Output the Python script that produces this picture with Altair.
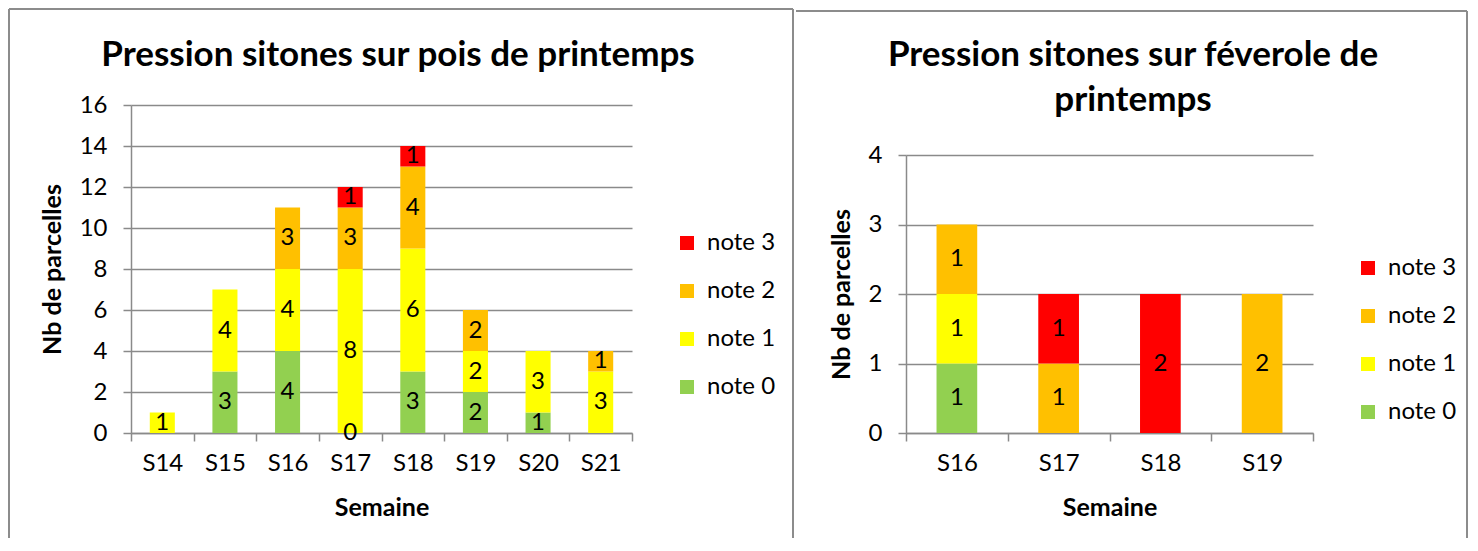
import altair as alt
import pandas as pd

FONT = "Lato"
GRID = "#8a8a8a"

notes = ["note 0", "note 1", "note 2", "note 3"]
note_colors = ["#92D050", "#FFFF00", "#FFC000", "#FF0000"]

pois_weeks = ["S14", "S15", "S16", "S17", "S18", "S19", "S20", "S21"]
pois_note0 = [None, 3, 4, 0, 3, 2, 1, None]
pois_note1 = [1, 4, 4, 8, 6, 2, 3, 3]
pois_note2 = [None, None, 3, 3, 4, 2, None, 1]
pois_note3 = [None, None, None, 1, 1, None, None, None]

fev_weeks = ["S16", "S17", "S18", "S19"]
fev_note0 = [1, None, None, None]
fev_note1 = [1, None, None, None]
fev_note2 = [1, 1, None, 2]
fev_note3 = [None, 1, 2, None]


def long_df(weeks, series):
    rows = []
    for k, vals in enumerate(series):
        for w, v in zip(weeks, vals):
            if v is not None:
                rows.append({"week": w, "note": notes[k], "ord": k, "value": v})
    return pd.DataFrame(rows)


one = alt.Data(values=[{"a": 1}])
H = 328


def panel(df, weeks, ymax, ystep, W, yrange, frame, borders, title, title_xy,
          legend_xy):
    base = (
        alt.Chart(df)
        .transform_stack(stack="value", groupby=["week"],
                         sort=[alt.SortField("ord", order="ascending")],
                         as_=["y0", "y1"])
        .transform_calculate(mid="(datum.y0 + datum.y1) / 2")
    )
    xenc = alt.X("week:N", sort=weeks, title="Semaine",
                 scale=alt.Scale(paddingInner=0, paddingOuter=0),
                 axis=alt.Axis(tickBand="extent", labelAngle=0))
    bars = base.mark_bar(width=alt.RelativeBandSize(0.4)).encode(
        x=xenc,
        y=alt.Y("y1:Q", title="Nb de parcelles",
                scale=alt.Scale(domain=[0, ymax], nice=False, range=yrange),
                axis=alt.Axis(values=list(range(0, ymax + 1, ystep)), grid=True,
                              format="d")),
        y2="y0:Q",
        color=alt.Color("note:N", title=None,
                        scale=alt.Scale(domain=notes[::-1], range=note_colors[::-1]),
                        legend=alt.Legend(orient="none", legendX=legend_xy[0],
                                          legendY=legend_xy[1])),
    )
    labels = base.mark_text(font=FONT, fontSize=24, color="black",
                            baseline="middle", align="center").encode(
        x=alt.X("week:N", sort=weeks),
        y="mid:Q",
        text="value:Q",
    )
    fx0, fx1, fy0, fy1 = frame
    frame_l = alt.Chart(one).mark_rect(opacity=0).encode(
        x=alt.value(fx0), x2=alt.value(fx1), y=alt.value(fy0), y2=alt.value(fy1))
    border_layers = []
    for (bx0, bx1, by0, by1) in borders:
        border_layers.append(
            alt.Chart(one).mark_rule(color="#8c8c8c", strokeWidth=2).encode(
                x=alt.value(bx0), x2=alt.value(bx1), y=alt.value(by0), y2=alt.value(by1)))
    title_l = alt.Chart(one).mark_text(
        font=FONT, fontSize=35, fontWeight="bold", color="black",
        align="center", baseline="middle", lineHeight=45).encode(
        x=alt.value(title_xy[0]), y=alt.value(title_xy[1]), text=alt.value(title))
    return alt.layer(frame_l, *border_layers, bars, labels, title_l).properties(
        width=W, height=H)


left = panel(
    long_df(pois_weeks, [pois_note0, pois_note1, pois_note2, pois_note3]),
    pois_weeks, 16, 2, 501, [H, 0],
    frame=(-123, 664, -97, 433),
    borders=[(-122, 662, -96, -96), (-122, -122, -96, 433), (662, 662, -96, 433)],
    title="Pression sitones sur pois de printemps",
    title_xy=(267, -50),
    legend_xy=(544, 126),
)

right = panel(
    long_df(fev_weeks, [fev_note0, fev_note1, fev_note2, fev_note3]),
    fev_weeks, 4, 1, 407, [H, 50],
    frame=(-111, 563, -97, 433),
    borders=[(-110, 561, -94, -94), (561, 561, -94, 433)],
    title=["Pression sitones sur féverole de", "printemps"],
    title_xy=(227, -50),
    legend_xy=(450, 151),
)

chart = (
    alt.hconcat(left, right, spacing=0)
    .resolve_scale(color="independent", x="independent", y="independent")
    .resolve_legend(color="independent")
    .properties(padding=0)
    .configure_view(strokeWidth=0)
    .configure_axis(
        labelFont=FONT, labelFontSize=24, labelColor="black",
        titleFont=FONT, titleFontSize=25, titleFontWeight="bold", titleColor="black",
        domainColor=GRID, domainWidth=1.5, tickColor=GRID, tickWidth=1.5, tickSize=8,
        gridColor=GRID, gridWidth=1.5,
    )
    .configure_axisY(labelPadding=16, titlePadding=14)
    .configure_axisX(labelPadding=10, titlePadding=20, grid=False)
    .configure_legend(
        labelFont=FONT, labelFontSize=24, labelColor="black",
        symbolType="square", symbolSize=196, symbolStrokeWidth=0, symbolOpacity=1,
        labelOffset=8, rowPadding=24, padding=0,
    )
)

chart.save("out.html", embed_options={"renderer": "svg", "actions": False})
